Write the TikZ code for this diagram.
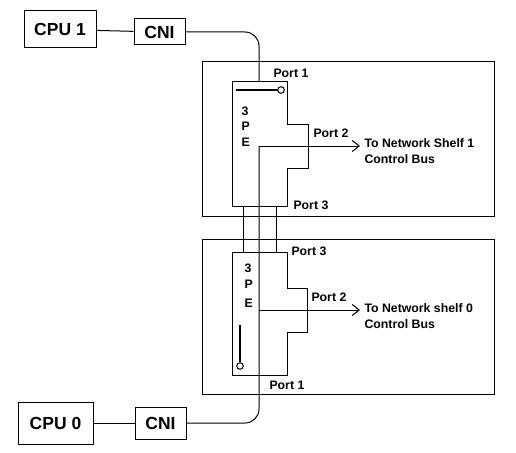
\documentclass[tikz,border=0pt]{standalone}
\usepackage{fontspec}
\setmainfont{Liberation Sans}
\usetikzlibrary{arrows.meta}
\begin{document}
\begin{tikzpicture}[x=1pt, y=-1pt, line width=1pt,
   cpu/.style={draw, inner sep=0pt, minimum width=#1, font=\fontsize{17.5}{20}\selectfont\bfseries},
   cni/.style={draw, inner sep=0pt, minimum width=51pt, font=\fontsize{17.5}{20}\selectfont\bfseries},
   lbl/.style={anchor=base west, inner sep=0pt, font=\fontsize{12.3}{14}\selectfont\bfseries},
   tip/.style={-{Straight Barb[length=7pt, width=11pt]}}]
   \useasboundingbox (0,0) rectangle (516,452);
   \node[cpu=72pt, minimum height=37pt] (cpua) at (60,29.5) {CPU 1};
   \node[cni, minimum height=26pt] (cnia) at (159.5,32) {CNI};
   \node[cpu=75pt, minimum height=42pt] (cpub) at (55.5,423) {CPU 0};
   \node[cni, minimum height=32pt] (cnib) at (160.5,423) {CNI};
   \draw (202,61) rectangle (494,216);
   \draw (202,239) rectangle (494,394);
   \draw (232,81)--(287,81)--(287,124)--(308,124)--(308,168)--(287,168)--(287,206)--(232,206)--cycle;
   \draw (232,252)--(287,252)--(287,288)--(307,288)--(307,332)--(287,332)--(287,375)--(232,375)--cycle;
   \coordinate (pa1) at (259,81);
   \coordinate (pa2) at (259,146);
   \coordinate (pb2) at (259,310);
   \coordinate (ea) at (360,146);
   \coordinate (eb) at (360,310);
   \draw (cpua) -- (cnia);
   \draw (cpub) -- (cnib);
   \draw[rounded corners=14pt] (cnia.east) -| (pa1);
   \draw[rounded corners=14pt] (pa2) |- (cnib.east);
   \draw[tip] (pa2) -- (ea);
   \draw[tip] (pb2) -- (eb);
   \draw (243,206) -- (243,252);
   \draw (276,206) -- (276,252);
   \draw[line width=2pt] (236,90) -- (278,90);
   \draw[fill=white] (281,90) circle (3.3pt);
   \draw[line width=2pt] (240,325) -- (240,362);
   \draw[fill=white] (240,366) circle (3.3pt);
   \node[lbl] (la1) at (273,77) {Port 1};
   \node[lbl] (la2) at (313,137) {Port 2};
   \node[lbl] (la3) at (293,209) {Port 3};
   \node[lbl] (lb1) at (269,389) {Port 1};
   \node[lbl] (lb2) at (311,301) {Port 2};
   \node[lbl] (lb3) at (291,255) {Port 3};
   \node[lbl] (ta) at (364,147) {To Network Shelf 1};
   \node[lbl] (tca) at (364,163) {Control Bus};
   \node[lbl] (tb) at (364,312) {To Network shelf 0};
   \node[lbl] (tcb) at (364,328) {Control Bus};
   \node[lbl] (a3) at (241,115) {3};
   \node[lbl] (ap) at (241,130) {P};
   \node[lbl] (ae) at (241,146) {E};
   \node[lbl] (b3) at (244,272) {3};
   \node[lbl] (bp) at (244,288) {P};
   \node[lbl] (be) at (244,307) {E};
\end{tikzpicture}
\end{document}
